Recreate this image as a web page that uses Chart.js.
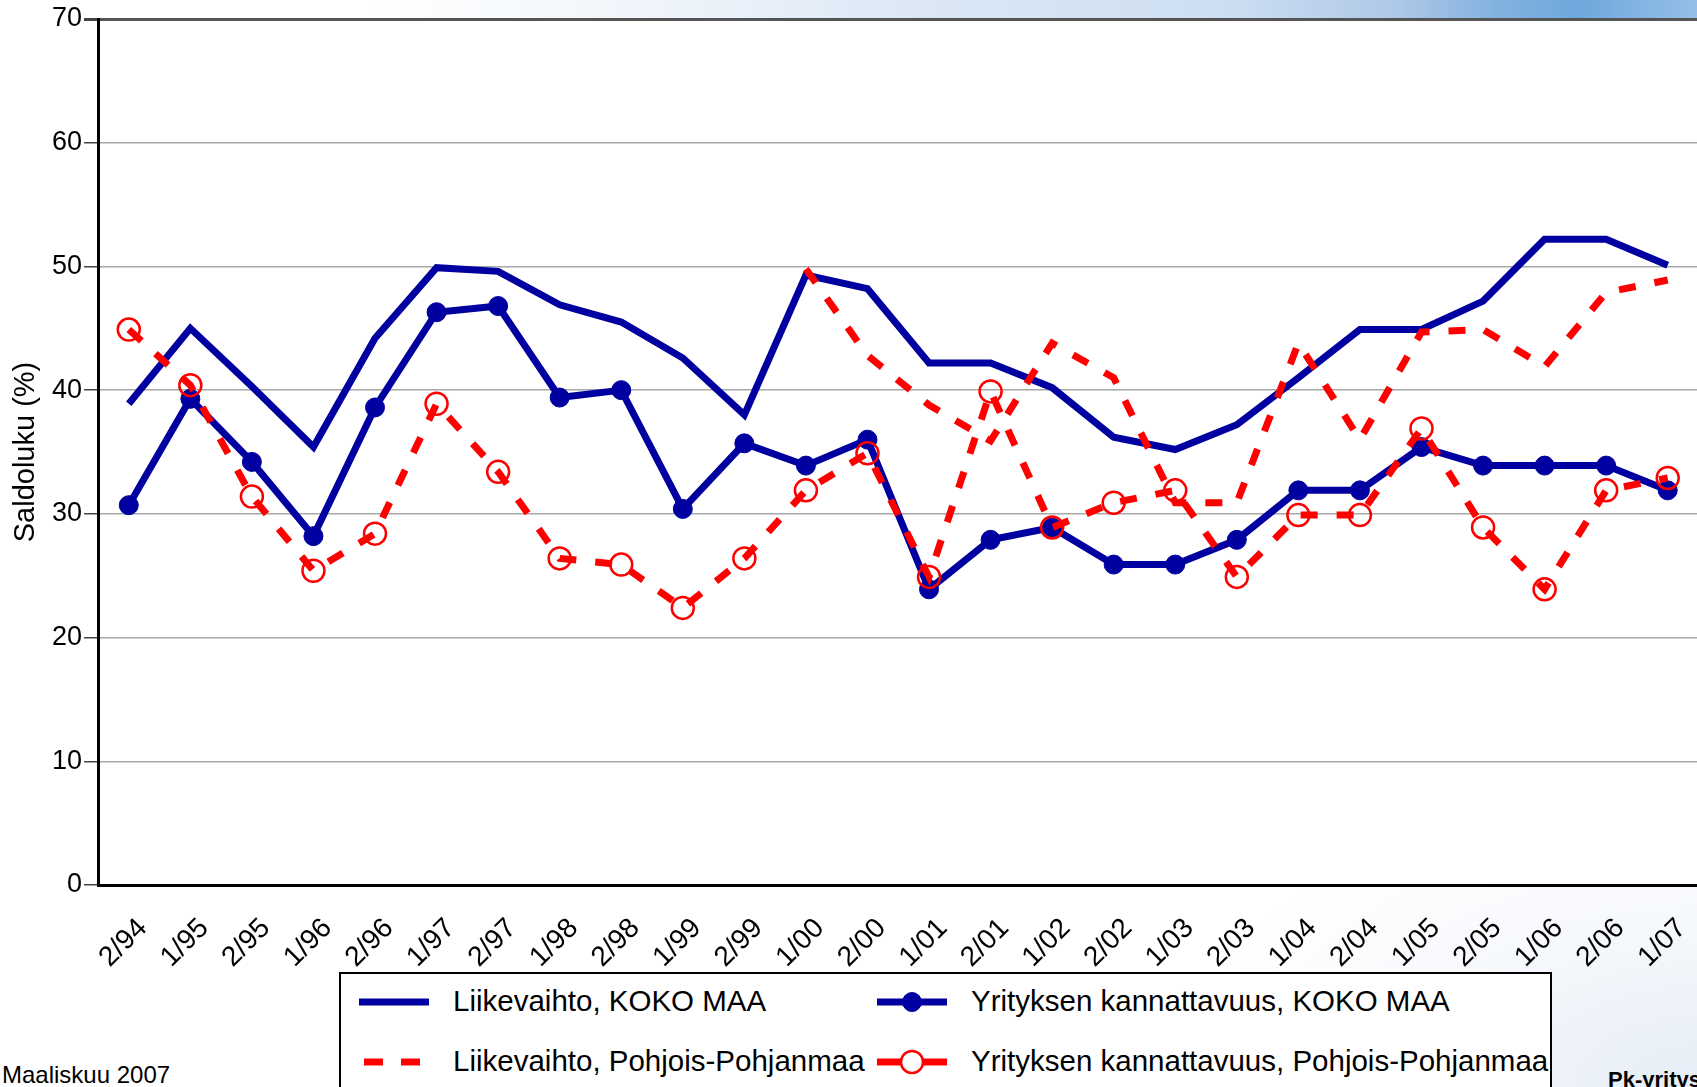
<!DOCTYPE html>
<html>
<head>
<meta charset="utf-8">
<script src="https://cdn.jsdelivr.net/npm/chart.js@4"></script>
<style>
  html, body { margin: 0; padding: 0; }
  body {
    width: 1697px; height: 1087px; overflow: hidden; position: relative;
    background: #fff; font-family: "Liberation Sans", Arial, sans-serif;
  }
  #banner {
    position: absolute; left: 0; top: 0; width: 1697px; height: 19px;
    background: linear-gradient(to right, #fff 0%, #fff 22%, #f0f5fb 38%, #dbe7f5 55%, #cddff2 72%, #b0c9e8 82%, #84b2df 88%, #6ea8dc 93%, #96bfe8 100%);
  }
  #glow {
    position: absolute; left: 0; top: 0; width: 1697px; height: 1087px;
    background: radial-gradient(ellipse 520px 300px at 100% 100%, #e6edf6 0%, rgba(240,244,250,0.6) 55%, rgba(255,255,255,0) 100%);
  }
  #chart { position: absolute; left: 0; top: 0; }
  #legend {
    position: absolute; left: 339px; top: 972px; width: 1213px; height: 140px;
    border: 2px solid #000; background: #fff; box-sizing: border-box;
  }
  .item { position: absolute; font-size: 29.5px; line-height: 30px; color: #000; white-space: nowrap; }
  .item canvas { position: absolute; }
  .foot { position: absolute; color: #000; white-space: nowrap; }
</style>
</head>
<body>
<div id="glow"></div>
<div id="banner"></div>
<canvas id="chart" width="1712" height="970"></canvas>
<div id="legend"></div>
<div class="foot" style="left:2px; top:1061px; font-size:24px;">Maaliskuu 2007</div>
<div class="foot" style="left:1608px; top:1067px; font-size:22px; font-weight:bold;">Pk-yritysbarometri</div>

<script>
'use strict'

let categories = ['2/94', '1/95', '2/95', '1/96', '2/96', '1/97', '2/97', '1/98', '2/98', '1/99',
    '2/99', '1/00', '2/00', '1/01', '2/01', '1/02', '2/02', '1/03', '2/03', '1/04',
    '2/04', '1/05', '2/05', '1/06', '2/06', '1/07'];

let liikevaihtoKoko = [38.9, 45.0, 40.3, 35.4, 44.2, 49.9, 49.6, 46.9, 45.5, 42.6,
    38.0, 49.3, 48.2, 42.2, 42.2, 40.2, 36.2, 35.2, 37.2, 41.0,
    44.9, 44.9, 47.2, 52.2, 52.2, 50.1];

let kannattavuusKoko = [30.7, 39.3, 34.2, 28.2, 38.6, 46.3, 46.8, 39.4, 40.0, 30.4,
    35.7, 33.9, 36.0, 23.9, 27.9, 28.9, 25.9, 25.9, 27.9, 31.9,
    31.9, 35.4, 33.9, 33.9, 33.9, 31.9];

// Pohjois-Pohjanmaa turnover series starts only from 1/00
let liikevaihtoPP = [null, null, null, null, null, null, null, null, null, null,
    null, 49.8, 42.8, 38.8, 35.9, 43.8, 41.0, 30.9, 30.9, 43.8,
    36.0, 44.7, 44.9, 41.9, 47.9, 48.9];

let kannattavuusPP = [44.9, 40.4, 31.4, 25.4, 28.4, 38.9, 33.4, 26.4, 25.9, 22.4,
    26.4, 31.9, 34.9, 24.9, 39.9, 28.9, 30.9, 31.9, 24.9, 29.9,
    29.9, 36.9, 28.9, 23.9, 31.9, 32.9];

let yMin = 0;
let yMax = 70;
let yStep = 10;

let blue = '#0000a0';
let red = '#ff0000';
let dash = [17, 19];

const datasets = [
    {
        label: 'Liikevaihto, KOKO MAA',
        data: liikevaihtoKoko,
        borderColor: blue,
        borderWidth: 7,
        pointRadius: 0,
        order: 3
    },
    {
        label: 'Yrityksen kannattavuus, KOKO MAA',
        data: kannattavuusKoko,
        borderColor: blue,
        backgroundColor: blue,
        borderWidth: 7,
        pointRadius: 9.5,
        pointBorderWidth: 1,
        pointBackgroundColor: blue,
        pointBorderColor: blue,
        order: 1
    },
    {
        label: 'Liikevaihto, Pohjois-Pohjanmaa',
        data: liikevaihtoPP,
        borderColor: red,
        borderWidth: 7,
        borderDash: dash,
        pointRadius: 0,
        order: 2
    },
    {
        label: 'Yrityksen kannattavuus, Pohjois-Pohjanmaa',
        data: kannattavuusPP,
        borderColor: red,
        borderWidth: 7,
        borderDash: dash,
        pointRadius: 11,
        pointBorderWidth: 2.5,
        pointBackgroundColor: 'rgba(0,0,0,0)',
        pointBorderColor: red,
        order: 0
    }
];

const areaFill = {
    id: 'areaFill',
    beforeDraw(chart) {
        const { ctx, chartArea: a } = chart;
        ctx.save();
        ctx.fillStyle = '#fff';
        ctx.fillRect(a.left, a.top, a.right - a.left, a.bottom - a.top);
        ctx.restore();
    }
};

const config = {
    type: 'line',
    data: { labels: categories, datasets: datasets },
    options: {
        responsive: false,
        animation: false,
        devicePixelRatio: 1,
        layout: { padding: { top: 19, right: 1, left: 0, bottom: 0 } },
        elements: { line: { tension: 0, borderJoinStyle: 'miter', borderCapStyle: 'butt' } },
        plugins: { legend: { display: false }, tooltip: { enabled: false } },
        scales: {
            x: {
                offset: true,
                grid: { display: false, drawTicks: false },
                border: { color: '#000', width: 3 },
                ticks: {
                    color: '#000',
                    font: { family: 'Liberation Sans', size: 28 },
                    minRotation: 45,
                    maxRotation: 45,
                    autoSkip: false,
                    padding: 27,
                    labelOffset: 14
                },
                afterFit(scale) {
                    scale.height = 85;
                    // the plot runs off the right edge, so no room kept for the end labels
                    scale.paddingLeft = 0;
                    scale.paddingRight = 0;
                }
            },
            y: {
                min: yMin,
                max: yMax,
                ticks: {
                    stepSize: yStep,
                    color: '#000',
                    font: { family: 'Liberation Sans', size: 27 },
                    padding: 2
                },
                grid: {
                    color: (c) => c.tick && c.tick.value === yMax ? '#555' : '#a8a8a8',
                    lineWidth: (c) => c.tick && c.tick.value === yMax ? 3 : 1.5,
                    tickColor: '#444',
                    tickLength: 14
                },
                border: { color: '#000', width: 3 },
                title: {
                    display: true,
                    text: 'Saldoluku (%)',
                    color: '#000',
                    font: { family: 'Liberation Sans', size: 29 },
                    padding: { top: 9, bottom: 0 }
                },
                afterFit(scale) { scale.width = 98; }
            }
        }
    },
    plugins: [areaFill]
};

let canvas = document.getElementById('chart');
const chart = new Chart(canvas, config);

// legend, boxed in two columns like the original
let legendSpots = [
    { left: 18, top: 12 },
    { left: 536, top: 12 },
    { left: 18, top: 72 },
    { left: 536, top: 72 }
];

function drawSample(cv, ds) {
    let ctx = cv.getContext('2d');
    let mid = cv.height / 2;
    ctx.strokeStyle = ds.borderColor;
    ctx.lineWidth = ds.borderWidth;
    if (ds.borderDash) {
        if (ds.pointRadius) {
            ctx.beginPath();
            ctx.moveTo(0, mid); ctx.lineTo(24, mid);
            ctx.moveTo(46, mid); ctx.lineTo(70, mid);
            ctx.stroke();
        } else {
            ctx.setLineDash([19, 18]);
            ctx.lineDashOffset = -5;
            ctx.beginPath();
            ctx.moveTo(0, mid); ctx.lineTo(62, mid);
            ctx.stroke();
        }
    } else {
        ctx.beginPath();
        ctx.moveTo(0, mid); ctx.lineTo(70, mid);
        ctx.stroke();
    }
    if (ds.pointRadius) {
        ctx.setLineDash([]);
        ctx.beginPath();
        ctx.arc(35, mid, ds.pointRadius, 0, Math.PI * 2);
        ctx.fillStyle = ds.pointBackgroundColor === 'rgba(0,0,0,0)' ? '#fff' : ds.pointBackgroundColor;
        ctx.fill();
        ctx.lineWidth = ds.pointBorderWidth;
        ctx.strokeStyle = ds.pointBorderColor;
        ctx.stroke();
    }
}

let legend = document.getElementById('legend');
for (let i = 0; i < datasets.length; i++) {
    let spot = legendSpots[i];
    let item = document.createElement('div');
    item.className = 'item';
    item.style.left = spot.left + 'px';
    item.style.top = spot.top + 'px';
    let cv = document.createElement('canvas');
    cv.width = 70;
    cv.height = 30;
    cv.style.left = '0px';
    cv.style.top = '1px';
    drawSample(cv, datasets[i]);
    item.appendChild(cv);
    let span = document.createElement('span');
    span.textContent = datasets[i].label;
    span.style.marginLeft = '94px';
    item.appendChild(span);
    legend.appendChild(item);
}
</script>
</body>
</html>
